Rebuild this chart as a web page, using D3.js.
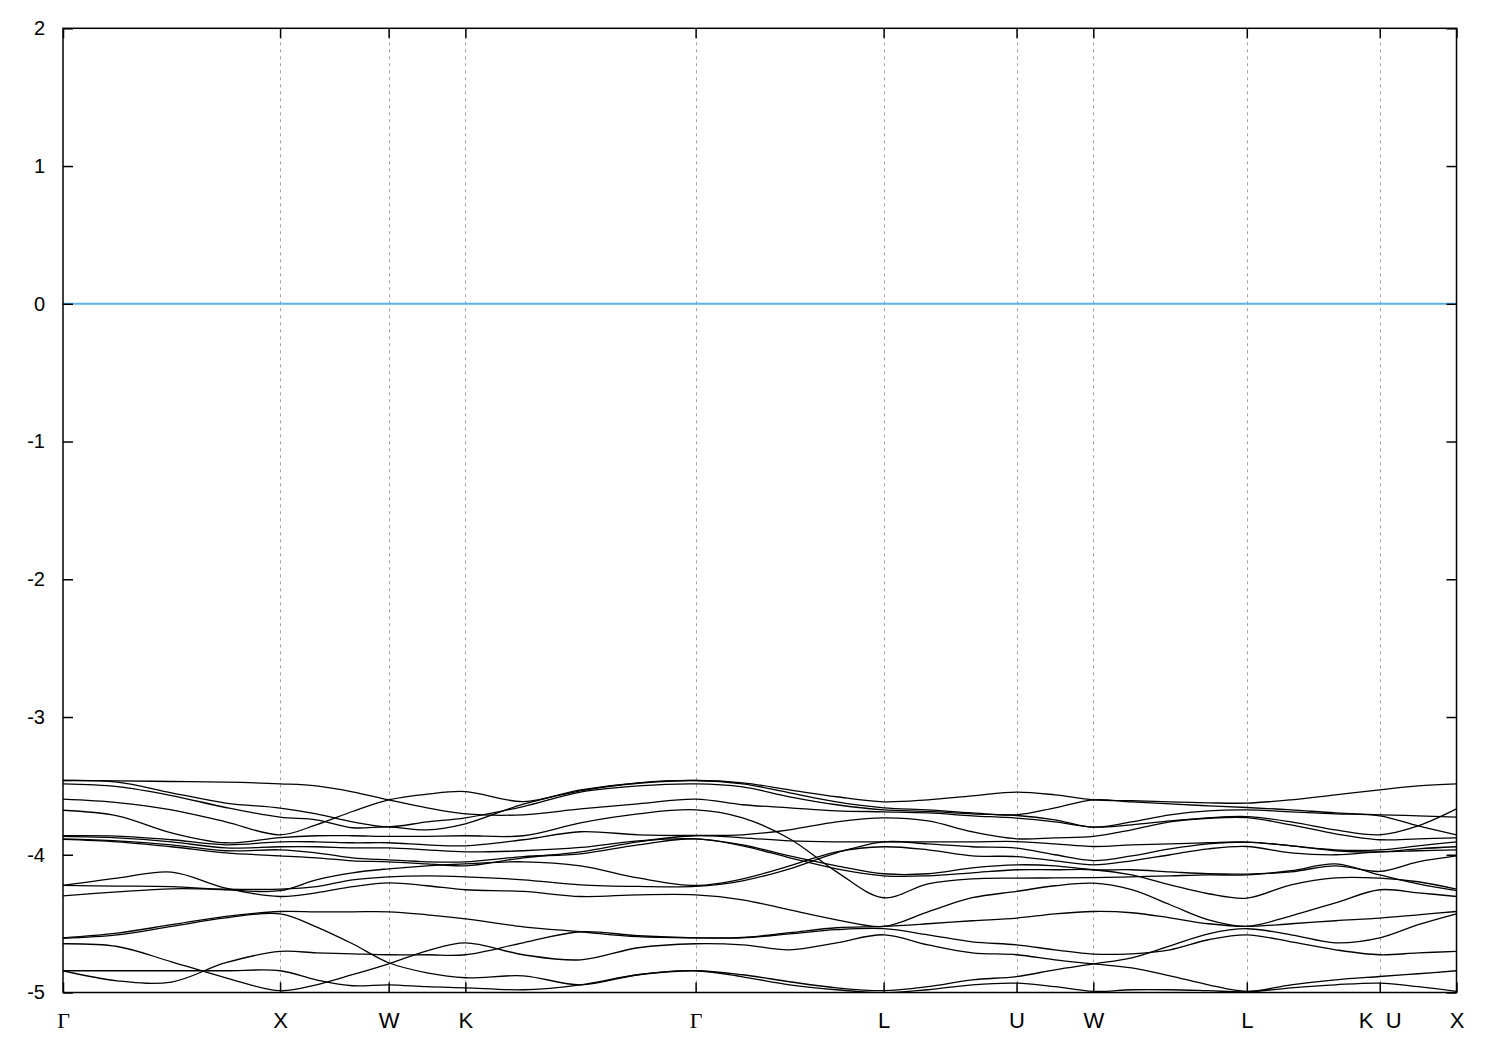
<!DOCTYPE html>
<html>
<head>
<meta charset="utf-8">
<script src="https://cdn.jsdelivr.net/npm/d3@7"></script>
<style>
  html, body { margin: 0; padding: 0; background: #fff; }
  svg { display: block; }
</style>
</head>
<body>
<svg id="chart" width="1500" height="1050"></svg>
<script>
// ---- data ----
const kPoints = [0, 0.25, 0.5, 0.75, 1.0, 1.1667, 1.3333, 1.5, 1.6768, 1.8536, 2.12, 2.3839, 2.6491, 2.9142,
  3.1307, 3.3472, 3.5637, 3.7802, 3.9843, 4.1885, 4.3926, 4.5694, 4.7462, 4.9230, 5.0998, 5.2765, 5.4533,
  5.6574, 5.8616, 6.0657, 6.2425, 6.4193];
const kTicks = [0, 1.0, 1.5, 1.8536, 2.9142, 3.7802, 4.3926, 4.7462, 5.4533, 6.0657, 6.4193];
const kLabels = ["Γ", "X", "W", "K", "Γ", "L", "U", "W", "L", "K  U", "X"];
const yTicks = [2, 1, 0, -1, -2, -3, -4, -5];
const fermiLevel = 0;

const band1 = [-3.461,-3.463,-3.468,-3.473,-3.485,-3.500,-3.543,-3.601,-3.659,-3.703,-3.710,-3.667,-3.630,-3.596,-3.637,-3.659,-3.681,-3.688,-3.696,-3.717,-3.734,-3.761,-3.799,-3.783,-3.754,-3.732,-3.723,-3.761,-3.819,-3.855,-3.790,-3.667];
const band2 = [-3.461,-3.473,-3.550,-3.625,-3.661,-3.703,-3.761,-3.797,-3.761,-3.732,-3.650,-3.545,-3.500,-3.485,-3.507,-3.579,-3.637,-3.674,-3.685,-3.703,-3.715,-3.746,-3.799,-3.761,-3.710,-3.681,-3.674,-3.688,-3.703,-3.717,-3.790,-3.855];
const band3 = [-3.485,-3.505,-3.570,-3.657,-3.727,-3.746,-3.804,-3.797,-3.819,-3.775,-3.632,-3.536,-3.481,-3.461,-3.478,-3.529,-3.579,-3.616,-3.601,-3.572,-3.545,-3.565,-3.601,-3.608,-3.616,-3.623,-3.625,-3.601,-3.565,-3.529,-3.500,-3.485];
const band4 = [-3.596,-3.621,-3.674,-3.761,-3.855,-3.783,-3.686,-3.601,-3.560,-3.541,-3.614,-3.529,-3.478,-3.461,-3.485,-3.550,-3.616,-3.659,-3.674,-3.696,-3.710,-3.659,-3.601,-3.616,-3.630,-3.645,-3.657,-3.674,-3.696,-3.710,-3.717,-3.727];
const band5 = [-3.677,-3.717,-3.841,-3.913,-3.875,-3.862,-3.862,-3.867,-3.866,-3.862,-3.862,-3.768,-3.703,-3.674,-3.732,-3.884,-4.124,-4.312,-4.211,-4.175,-4.170,-4.168,-4.166,-4.160,-4.153,-4.146,-4.146,-4.116,-4.066,-4.146,-4.211,-4.261];
const band6 = [-3.862,-3.865,-3.891,-3.928,-3.906,-3.906,-3.913,-3.913,-3.928,-3.935,-3.891,-3.833,-3.855,-3.860,-3.855,-3.819,-3.761,-3.732,-3.754,-3.833,-3.884,-3.877,-3.867,-3.819,-3.761,-3.735,-3.730,-3.783,-3.848,-3.891,-3.884,-3.877];
const band7 = [-3.866,-3.877,-3.906,-3.950,-3.942,-3.942,-3.950,-3.950,-3.964,-3.979,-3.971,-3.947,-3.899,-3.884,-3.928,-4.008,-4.080,-4.138,-4.138,-4.095,-4.073,-4.080,-4.109,-4.109,-4.124,-4.138,-4.140,-4.124,-4.080,-4.121,-4.051,-4.008];
const band8 = [-3.884,-3.899,-3.928,-3.971,-3.964,-3.986,-4.022,-4.037,-4.051,-4.051,-4.013,-3.993,-3.928,-3.884,-3.935,-4.022,-4.102,-4.153,-4.153,-4.131,-4.109,-4.109,-4.109,-4.146,-4.218,-4.283,-4.315,-4.218,-4.168,-4.170,-4.196,-4.250];
const band9 = [-3.888,-3.906,-3.942,-3.986,-4.008,-4.022,-4.044,-4.051,-4.066,-4.080,-4.022,-3.979,-3.906,-3.862,-3.877,-3.899,-3.906,-3.906,-3.906,-3.906,-3.904,-3.921,-3.940,-3.928,-3.921,-3.913,-3.908,-3.935,-3.964,-3.964,-3.935,-3.906];
const band10 = [-4.223,-4.170,-4.126,-4.242,-4.303,-4.276,-4.232,-4.204,-4.225,-4.254,-4.266,-4.303,-4.291,-4.291,-4.327,-4.400,-4.472,-4.520,-4.414,-4.312,-4.266,-4.225,-4.206,-4.254,-4.363,-4.472,-4.520,-4.443,-4.349,-4.254,-4.276,-4.303];
const band11 = [-4.223,-4.227,-4.232,-4.254,-4.261,-4.182,-4.131,-4.102,-4.080,-4.066,-4.051,-4.080,-4.168,-4.223,-4.175,-4.080,-3.979,-3.942,-3.964,-4.008,-4.013,-4.044,-4.073,-4.044,-4.000,-3.957,-3.940,-3.986,-4.000,-3.979,-3.971,-3.964];
const band12 = [-4.298,-4.269,-4.247,-4.250,-4.250,-4.232,-4.182,-4.160,-4.153,-4.160,-4.182,-4.218,-4.230,-4.230,-4.189,-4.102,-3.986,-3.906,-3.921,-3.942,-3.952,-4.000,-4.042,-4.008,-3.957,-3.921,-3.908,-3.935,-3.971,-3.979,-3.957,-3.942];
const band13 = [-4.603,-4.569,-4.508,-4.448,-4.412,-4.414,-4.414,-4.414,-4.436,-4.465,-4.523,-4.559,-4.595,-4.603,-4.600,-4.566,-4.530,-4.520,-4.501,-4.479,-4.460,-4.429,-4.412,-4.421,-4.458,-4.501,-4.520,-4.501,-4.479,-4.460,-4.436,-4.412];
const band14 = [-4.606,-4.581,-4.520,-4.458,-4.429,-4.523,-4.646,-4.784,-4.857,-4.893,-4.879,-4.944,-4.871,-4.842,-4.871,-4.922,-4.966,-4.987,-4.958,-4.908,-4.884,-4.835,-4.792,-4.748,-4.661,-4.574,-4.537,-4.581,-4.639,-4.603,-4.508,-4.429];
const band15 = [-4.646,-4.666,-4.777,-4.893,-4.987,-4.944,-4.871,-4.792,-4.697,-4.639,-4.726,-4.763,-4.675,-4.646,-4.654,-4.690,-4.639,-4.581,-4.654,-4.712,-4.726,-4.763,-4.792,-4.821,-4.879,-4.944,-4.992,-4.944,-4.908,-4.884,-4.864,-4.842];
const band16 = [-4.842,-4.842,-4.842,-4.842,-4.842,-4.908,-4.951,-4.944,-4.958,-4.966,-4.980,-4.944,-4.871,-4.842,-4.886,-4.944,-4.980,-5.002,-4.980,-4.944,-4.932,-4.958,-4.992,-4.980,-4.980,-4.987,-4.995,-4.966,-4.944,-4.932,-4.958,-4.992];
const band17 = [-4.842,-4.915,-4.924,-4.784,-4.702,-4.712,-4.719,-4.726,-4.726,-4.726,-4.639,-4.559,-4.588,-4.603,-4.603,-4.574,-4.544,-4.537,-4.581,-4.632,-4.654,-4.690,-4.721,-4.719,-4.690,-4.617,-4.581,-4.632,-4.690,-4.726,-4.712,-4.702];

const bands = [band1, band2, band3, band4, band5, band6, band7, band8, band9, band10,
  band11, band12, band13, band14, band15, band16, band17];

(function draw() {
  const pL = 63, pR = 1456.5, pT = 28.3, pB = 992.5;
  const svg = d3.select("#chart");

  const x = d3.scaleLinear().domain([kTicks[0], kTicks[kTicks.length - 1]]).range([pL, pR]);
  const y = d3.scaleLinear().domain([-5, 2]).range([pB, pT]);

  svg.append("defs").append("clipPath").attr("id", "plotclip")
    .append("rect").attr("x", pL).attr("y", pT)
    .attr("width", pR - pL).attr("height", pB - pT);

  // grid lines at high-symmetry points
  svg.append("g").selectAll("line")
    .data(kTicks.slice(1, -1))
    .join("line")
    .attr("x1", d => Math.round(x(d)) + 0.5).attr("x2", d => Math.round(x(d)) + 0.5)
    .attr("y1", pT).attr("y2", pB)
    .attr("stroke", "#a0a0a0").attr("stroke-width", 1)
    .attr("stroke-dasharray", "3,4");

  // Fermi level
  svg.append("line")
    .attr("x1", pL).attr("x2", pR)
    .attr("y1", y(fermiLevel)).attr("y2", y(fermiLevel))
    .attr("stroke", "#56b4e9").attr("stroke-width", 2);

  // bands
  const line = d3.line()
    .x((d, i) => x(kPoints[i]))
    .y(d => y(d))
    .curve(d3.curveCatmullRom.alpha(0.5));

  svg.append("g").attr("clip-path", "url(#plotclip)")
    .selectAll("path")
    .data(bands)
    .join("path")
    .attr("d", d => line(d))
    .attr("fill", "none")
    .attr("stroke", "#000")
    .attr("stroke-width", 1.3);

  // axes
  const fontSans = "'Liberation Sans', Arial, sans-serif";
  const leftAxis = d3.axisLeft(y).tickValues(yTicks).tickSize(-10).tickSizeOuter(0).tickPadding(18)
    .tickFormat(d => String(d));
  const gL = svg.append("g").attr("transform", `translate(${pL},0)`).call(leftAxis);
  gL.selectAll("text").attr("font-family", fontSans).attr("font-size", 20).attr("fill", "#000");

  const rightAxis = d3.axisRight(y).tickValues(yTicks).tickSize(-10).tickSizeOuter(0).tickFormat("");
  svg.append("g").attr("transform", `translate(${pR},0)`).call(rightAxis);

  const bottomAxis = d3.axisBottom(x).tickValues(kTicks).tickSize(-10).tickSizeOuter(0).tickPadding(20)
    .tickFormat((d, i) => kLabels[i]);
  const gB = svg.append("g").attr("transform", `translate(0,${pB})`).call(bottomAxis);
  gB.selectAll("text")
    .attr("font-family", (d, i) => kLabels[i] === "Γ" ? "'Liberation Serif', 'Times New Roman', serif" : fontSans)
    .attr("font-size", 22).attr("fill", "#000")
    .style("white-space", "pre");

  const topAxis = d3.axisTop(x).tickValues(kTicks).tickSize(-10).tickSizeOuter(0).tickFormat("");
  svg.append("g").attr("transform", `translate(0,${pT})`).call(topAxis);

  svg.selectAll(".domain").remove();
  svg.selectAll(".tick line").attr("stroke", "#000").attr("stroke-width", 1.5);

  // frame
  svg.append("rect")
    .attr("x", pL).attr("y", pT)
    .attr("width", pR - pL).attr("height", pB - pT)
    .attr("fill", "none").attr("stroke", "#000").attr("stroke-width", 1.5);
})();
</script>
</body>
</html>
